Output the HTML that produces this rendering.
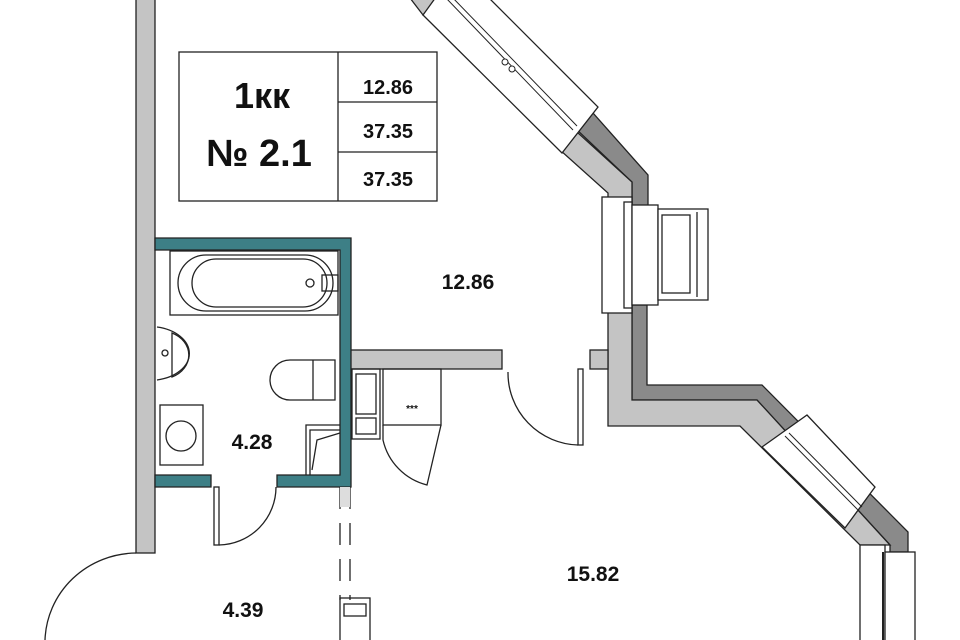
<!DOCTYPE html>
<html><head><meta charset="utf-8"><style>
html,body{margin:0;padding:0;background:#fff;width:960px;height:640px;overflow:hidden}
svg{display:block}
text{font-family:"Liberation Sans",sans-serif;font-weight:bold;fill:#111}
</style></head><body>
<svg width="960" height="640" viewBox="0 0 960 640" xmlns="http://www.w3.org/2000/svg">
<g stroke="#222" stroke-width="1.3" fill="none">
<!-- left wall -->
<rect x="136" y="-2" width="19" height="555" fill="#c4c4c4"/>
<!-- upper walls -->
<polygon points="410,-2 437,-2 423,15" fill="#c4c4c4"/>
<polygon points="575,128 593,113 648,175 648,206 632,206 632,182" fill="#8a8a8a"/>
<polygon points="560,150 577,132 632,182 632,206 608,206 608,193" fill="#c4c4c4"/>
<!-- lower walls -->
<polygon points="632,305 647,305 647,385 762,385 908,532 908,552 890,552 890,545 757,400 632,400" fill="#8a8a8a"/>
<polygon points="608,310 632,310 632,400 757,400 890,545 860,545 740,426 608,426" fill="#c4c4c4"/>
<!-- upper diagonal window -->
<polygon points="423,15 562,153 598,107 488,-3 436,-3" fill="#fff"/>
<line x1="446" y1="-2" x2="573" y2="130" stroke-width="1"/>
<line x1="451" y1="-4" x2="577" y2="126" stroke-width="1"/>
<circle cx="505" cy="62" r="3" fill="#fff" stroke-width="1"/>
<circle cx="512" cy="69" r="3" fill="#fff" stroke-width="1"/>
<!-- right window -->
<rect x="602" y="197" width="30" height="116" fill="#fff"/>
<rect x="624" y="202" width="8" height="106" fill="#fff"/>
<rect x="632" y="205" width="26" height="100" fill="#fff"/>
<rect x="658" y="209" width="50" height="91" fill="#fff"/>
<rect x="662" y="215" width="28" height="78"/>
<line x1="697" y1="212" x2="697" y2="297"/>
<!-- lower diagonal window -->
<polygon points="762,447 807,415 875,487 845,528" fill="#fff"/>
<line x1="785" y1="436" x2="858" y2="510" stroke-width="1"/>
<line x1="789" y1="433" x2="862" y2="507" stroke-width="1"/>
<rect x="860" y="545" width="25" height="100" fill="#fff"/>
<rect x="885" y="552" width="30" height="95" fill="#fff"/>
<line x1="883" y1="552" x2="883" y2="640" stroke-width="2"/>
<!-- interior partition -->
<rect x="350" y="350" width="152" height="19" fill="#c4c4c4"/>
<rect x="590" y="350" width="18" height="19" fill="#c4c4c4"/>
<rect x="578" y="369" width="5" height="76" fill="#fff"/>
<path d="M508,372 A72,72 0 0 0 578,445"/>
<!-- bathroom teal -->
<path d="M155,238 H351 V487 H277 V475 H340 V250 H155 Z" fill="#3d7f86"/>
<path d="M155,475 H211 V487 H155 Z" fill="#3d7f86"/>
<!-- bathtub -->
<rect x="170" y="251" width="168" height="64"/>
<rect x="178" y="255" width="155" height="56" rx="28"/>
<rect x="192" y="259" width="135" height="48" rx="24"/>
<circle cx="310" cy="283" r="4"/>
<rect x="322" y="275" width="16" height="16"/>
<!-- sink -->
<path d="M157,327 A40,27 0 0 1 157,380"/>
<path d="M172,333 A28,24 0 0 1 172,377 Z"/>
<circle cx="165" cy="353" r="3"/>
<!-- washer -->
<rect x="160" y="405" width="43" height="60"/>
<circle cx="181" cy="436" r="15"/>
<!-- toilet -->
<path d="M290,360 H335 V400 H290 A20,20 0 0 1 290,360 Z"/>
<line x1="313" y1="360" x2="313" y2="400"/>
<!-- closet -->
<path d="M306,475 V425 H340 M310,475 V430 H340 M312,470 L317,440 L340,433"/>
<!-- bathroom door -->
<rect x="214" y="487" width="5" height="58" fill="#fff"/>
<path d="M219,545 A58,58 0 0 0 276,487"/>
<!-- cabinet & kitchen -->
<rect x="352" y="369" width="28" height="70"/>
<rect x="356" y="374" width="20" height="40"/>
<rect x="356" y="418" width="20" height="16"/>
<rect x="383" y="369" width="58" height="56"/>
<path d="M383,425 L383,440 A60,60 0 0 0 427,485 L441,425"/>
<!-- dashed -->
<path d="M340,487 V600 M350,487 V600" stroke-dasharray="22,14"/>
<rect x="340" y="487" width="10" height="20" fill="#ddd" stroke="none"/>
<rect x="340" y="598" width="30" height="45"/>
<rect x="344" y="604" width="22" height="12"/>
<!-- entrance arc -->
<path d="M45,640 A92,90 0 0 1 136,553"/>
<!-- info box -->
<rect x="179" y="52" width="258" height="149"/>
<line x1="338" y1="52" x2="338" y2="201"/>
<line x1="338" y1="102" x2="437" y2="102"/>
<line x1="338" y1="152" x2="437" y2="152"/>
</g>
<text x="262" y="108" font-size="36" text-anchor="middle">1кк</text>
<text x="259" y="166" font-size="38" text-anchor="middle">№ 2.1</text>
<text x="388" y="94" font-size="20" text-anchor="middle">12.86</text>
<text x="388" y="138" font-size="20" text-anchor="middle">37.35</text>
<text x="388" y="186" font-size="20" text-anchor="middle">37.35</text>
<text x="468" y="289" font-size="21" text-anchor="middle">12.86</text>
<text x="252" y="449" font-size="21" text-anchor="middle">4.28</text>
<text x="243" y="617" font-size="21" text-anchor="middle">4.39</text>
<text x="593" y="581" font-size="21" text-anchor="middle">15.82</text>
<text x="412" y="412" font-size="10" text-anchor="middle" fill="#555">***</text>
</svg>
</body></html>
